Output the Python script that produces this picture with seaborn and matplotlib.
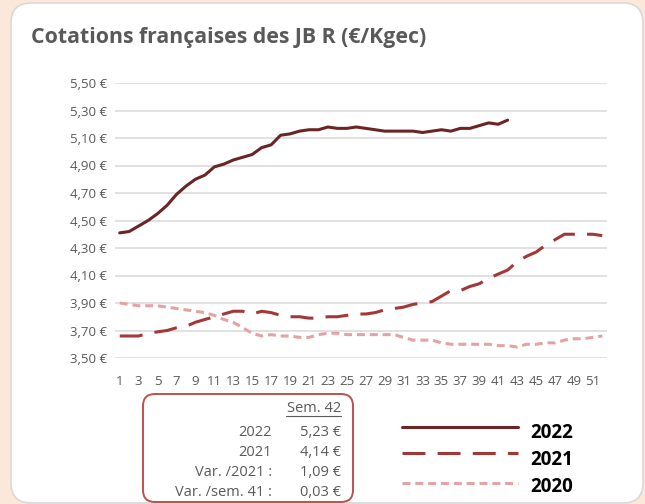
import numpy as np
import pandas as pd
import matplotlib
matplotlib.use("Agg")
import matplotlib.pyplot as plt
import seaborn as sns
from matplotlib.patches import FancyBboxPatch
from matplotlib.lines import Line2D

# Weekly prices (€/kg carcass)
weeks = list(range(1, 53))

prix_2022 = [4.41, 4.42, 4.46, 4.50, 4.55, 4.61, 4.69, 4.75, 4.80, 4.83,
             4.89, 4.91, 4.94, 4.96, 4.98, 5.03, 5.05, 5.12, 5.13, 5.15,
             5.16, 5.16, 5.18, 5.17, 5.17, 5.18, 5.17, 5.16, 5.15, 5.15,
             5.15, 5.15, 5.14, 5.15, 5.16, 5.15, 5.17, 5.17, 5.19, 5.21,
             5.20, 5.23]

prix_2021 = [3.66, 3.66, 3.66, 3.68, 3.69, 3.70, 3.72, 3.73, 3.76, 3.78,
             3.80, 3.82, 3.84, 3.84, 3.82, 3.84, 3.83, 3.81, 3.80, 3.80,
             3.79, 3.79, 3.80, 3.80, 3.81, 3.82, 3.82, 3.83, 3.85, 3.86,
             3.87, 3.89, 3.90, 3.91, 3.95, 3.99, 3.99, 4.02, 4.04, 4.08,
             4.11, 4.14, 4.20, 4.24, 4.27, 4.32, 4.36, 4.40, 4.40, 4.40,
             4.40, 4.39]

prix_2020 = [3.90, 3.89, 3.88, 3.88, 3.88, 3.87, 3.86, 3.85, 3.84, 3.83,
             3.81, 3.78, 3.76, 3.72, 3.68, 3.66, 3.67, 3.66, 3.66, 3.65,
             3.65, 3.67, 3.68, 3.68, 3.67, 3.67, 3.67, 3.67, 3.67, 3.67,
             3.65, 3.63, 3.63, 3.63, 3.61, 3.60, 3.60, 3.60, 3.60, 3.60,
             3.59, 3.59, 3.58, 3.60, 3.60, 3.61, 3.61, 3.63, 3.64, 3.64,
             3.65, 3.66]

series = ["2022", "2021", "2020"]
colors = {"2022": "#6B2525", "2021": "#A23838", "2020": "#E3A3A3"}

y_ticks = [3.50, 3.70, 3.90, 4.10, 4.30, 4.50, 4.70, 4.90, 5.10, 5.30, 5.50]
x_ticks = list(range(1, 52, 2))

table_labels = ["2022", "2021", "Var. /2021 :", "Var. /sem. 41 :"]
table_values = ["5,23 €", "4,14 €", "1,09 €", "0,03 €"]

sns.set_theme(style="white")
plt.rcParams["font.family"] = ["Open Sans", "DejaVu Sans"]

grey_txt = "#595959"

fig = plt.figure(figsize=(6.45, 5.04), dpi=100)
fig.patch.set_facecolor("#FCE8DA")

# overlay in pixel coordinates for card, title, table and legend
over = fig.add_axes([0, 0, 1, 1])
over.set_xlim(0, 645)
over.set_ylim(504, 0)
over.axis("off")

card = FancyBboxPatch((11, 3), 632, 500, boxstyle="round,pad=0,rounding_size=20",
                      facecolor="white", edgecolor="#D9D9D9", linewidth=1.2)
over.add_patch(card)
over.text(31, 38, "Cotations françaises des JB R (€/Kgec)", fontsize=15.3,
          fontweight="bold", color=grey_txt, ha="left", va="center")

# main chart
ax = fig.add_axes([115 / 645, 1 - 358 / 504, 492 / 645, 275 / 504])
ax.set_facecolor("none")

styles = {
    "2022": dict(linestyle="-", linewidth=2.2),
    "2021": dict(linestyle=(0, (7.5, 4.0)), linewidth=2.2),
    "2020": dict(linestyle=(0, (2.6, 1.6)), linewidth=2.2),
}
data = {"2022": prix_2022, "2021": prix_2021, "2020": prix_2020}

for name in ["2020", "2021", "2022"]:
    vals = data[name]
    df = pd.DataFrame({"semaine": weeks[:len(vals)], "prix": vals})
    sns.lineplot(data=df, x="semaine", y="prix", ax=ax, color=colors[name],
                 **styles[name])

ax.set_xlim(0.5, 52.5)
ax.set_ylim(3.5, 5.5)
ax.set_yticks(y_ticks)
ax.set_yticklabels([f"{v:.2f} €".replace(".", ",") for v in y_ticks])
ax.set_xticks(x_ticks)
ax.set_xticklabels([str(w) for w in x_ticks])
ax.tick_params(axis="both", length=0, labelsize=9.5, colors=grey_txt)
ax.tick_params(axis="y", pad=6)
ax.tick_params(axis="x", pad=12)
ax.grid(axis="y", color="#D9D9D9", linewidth=1.1)
ax.set_axisbelow(True)
ax.set_xlabel("")
ax.set_ylabel("")
for s in ax.spines.values():
    s.set_visible(False)

# summary table box
box = FancyBboxPatch((143, 394), 210, 108, boxstyle="round,pad=0,rounding_size=12",
                     facecolor="white", edgecolor="#C0504D", linewidth=1.4)
over.add_patch(box)
over.text(341, 408, "Sem. 42", fontsize=10.5, color=grey_txt, ha="right", va="center")
over.plot([286, 341], [416, 416], color=grey_txt, linewidth=0.8)
for i, (lab, val) in enumerate(zip(table_labels, table_values)):
    y = 432 + i * 20
    over.text(272, y, lab, fontsize=10.5, color=grey_txt, ha="right", va="center")
    over.text(341, y, val, fontsize=10.5, color=grey_txt, ha="right", va="center")

# legend
leg_y = [426.5, 453, 483]
lab_y = [433, 460, 487]
for name, ly, ty in zip(series, leg_y, lab_y):
    st = styles[name]
    over.add_line(Line2D([402, 518], [ly, ly], color=colors[name], **st))
    over.text(530, ty, name, fontsize=13.5, fontweight="bold", color="black",
              ha="left", va="center")

fig.savefig("out.png", dpi=100, facecolor=fig.get_facecolor())
